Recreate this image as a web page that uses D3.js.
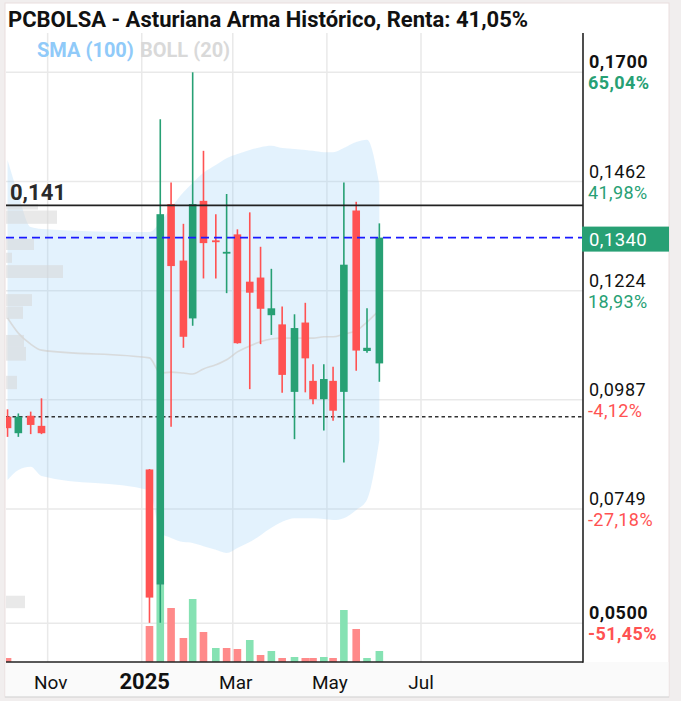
<!DOCTYPE html>
<html><head><meta charset="utf-8">
<script src="https://cdn.jsdelivr.net/npm/d3@7"></script>
<style>
html,body{margin:0;padding:0;background:#f1eeee;}
svg{display:block;font-family:Roboto,"Noto Sans",sans-serif;}
</style></head><body>
<svg id="c" width="681" height="701"></svg>
<script>
// ---------- data ----------
const dates = ["2024-10-06","2024-10-13","2024-10-21","2024-10-28","2025-01-06","2025-01-13","2025-01-20","2025-01-28","2025-02-03","2025-02-10","2025-02-18","2025-02-25","2025-03-04","2025-03-12","2025-03-19","2025-03-26","2025-04-02","2025-04-10","2025-04-17","2025-04-22","2025-04-29","2025-05-05","2025-05-12","2025-05-20","2025-05-27","2025-06-04"];
const opens  = [0.0950,0.0914,0.0952,0.0930,0.0835,0.0584,0.1413,0.1290,0.1164,0.1420,0.1334,0.1306,0.1347,0.1244,0.1253,0.1171,0.1151,0.1004,0.1155,0.1028,0.0988,0.1028,0.1004,0.1399,0.1093,0.1066];
const highs  = [0.0966,0.0957,0.0961,0.0990,0.0836,0.1598,0.1460,0.1370,0.1700,0.1529,0.1391,0.1435,0.1358,0.1395,0.1320,0.1272,0.1190,0.1173,0.1198,0.1064,0.1064,0.1059,0.1460,0.1418,0.1186,0.1371];
const lows   = [0.0906,0.0906,0.0912,0.0912,0.0501,0.0501,0.0928,0.1100,0.1148,0.1251,0.1251,0.1219,0.1109,0.1010,0.1108,0.1128,0.1002,0.0901,0.1003,0.0977,0.0920,0.0941,0.0850,0.1050,0.1089,0.1026];
const closes = [0.0925,0.0950,0.0932,0.0914,0.0556,0.1391,0.1278,0.1124,0.1413,0.1328,0.1330,0.1309,0.1110,0.1220,0.1185,0.1186,0.1041,0.1143,0.1077,0.0988,0.1032,0.0963,0.1281,0.1094,0.1100,0.1340];
const volumes = [4,0,0,0,36,77,54,24,63,30,14,14,13,22,7,11,4,5,4,4,5,4,52,33,4,11]; // thousands

const bollUpper = [0.1509,0.1433,0.1363,0.1359,0.1352,0.1374,0.1405,0.1439,0.1459,0.1481,0.1498,0.1513,0.1522,0.1531,0.1537,0.1540,0.1535,0.1533,0.1531,0.1529,0.1526,0.1526,0.1535,0.1548,0.1553,0.1455];
const bollLower = [0.0812,0.0834,0.0841,0.0821,0.0790,0.0697,0.0686,0.0677,0.0675,0.0668,0.0660,0.0653,0.0664,0.0677,0.0692,0.0708,0.0721,0.0729,0.0729,0.0729,0.0727,0.0725,0.0729,0.0747,0.0769,0.0899];
const bollMid   = [0.1165,0.1132,0.1108,0.1095,0.1078,0.1045,0.1047,0.1045,0.1043,0.1054,0.1063,0.1074,0.1091,0.1104,0.1113,0.1119,0.1121,0.1121,0.1121,0.1121,0.1124,0.1124,0.1130,0.1137,0.1156,0.1182];

const profileHigh = [0.1413,0.1399,0.1337,0.1307,0.1280,0.1217,0.1190,0.1128,0.1102,0.1039,0.0560];
const profileLow  = [0.1401,0.1370,0.1313,0.1285,0.1252,0.1191,0.1163,0.1102,0.1072,0.1010,0.0533];
const profileVol  = [32,51,28,6,57,26,17,18,20,11,19];

const yTicks = [0.1700,0.1462,0.1224,0.0987,0.0749,0.0500];
const yTickLabels = ["0,1700","0,1462","0,1224","0,0987","0,0749","0,0500"];
const pctLabels = ["65,04%","41,98%","18,93%","-4,12%","-27,18%","-51,45%"];
const xTickDates = ["2024-11-01","2025-01-01","2025-03-01","2025-05-01","2025-07-01"];
const xTickLabels = ["Nov","2025","Mar","May","Jul"];
const lastPrice = 0.1340, lastPriceLabel = "0,1340";
const refLevel = 0.141, refLabel = "0,141";
const baseLevel = 0.0950;
const title = "PCBOLSA - Asturiana Arma Histórico, Renta: 41,05%";

// ---------- setup ----------
const parse = d3.utcParse("%Y-%m-%d");
const GREEN = "#27a074", RED = "#ff5252";
const L = 6, R = 583, T = 33, B = 662;
const svg = d3.select("#c");
const x = d3.scaleUtc().domain([parse("2024-10-05"), parse("2025-10-14")]).range([L, R]);
const y = d3.scaleLinear().domain([0.05, 0.17]).range([623.3, 72.3]);
const vy = d3.scaleLinear().domain([0, 100]).range([B, B - 100]);
const px = d3.scaleLinear().domain([0, 100]).range([L, L + 100]);

const data = dates.map((d, i) => ({d: parse(d), o: opens[i], h: highs[i], l: lows[i], c: closes[i], v: volumes[i],
  up: bollUpper[i], lo: bollLower[i], mid: bollMid[i], prev: i > 0 ? closes[i-1] : opens[i]}));

// frame
svg.append("rect").attr("x",5).attr("y",3).attr("width",664).attr("height",694).attr("fill","#fff").attr("stroke","#eadede").attr("stroke-width",1);
svg.append("rect").attr("x",5.5).attr("y",B).attr("width",663).attr("height",35).attr("fill","#fafafa");
svg.append("line").attr("x1",5).attr("x2",669).attr("y1",697).attr("y2",697).attr("stroke","#dcdcdc").attr("stroke-width",1.5);

svg.append("clipPath").attr("id","pc").append("rect").attr("x",L).attr("y",T).attr("width",R-L).attr("height",B-T);
const g = svg.append("g").attr("clip-path","url(#pc)");

// grid
g.selectAll("line.hg").data(yTicks).join("line").attr("x1",L).attr("x2",R)
  .attr("y1",d=>y(d)).attr("y2",d=>y(d)).attr("stroke","#e9e9e9").attr("stroke-width",1.5);
g.selectAll("line.vg").data(xTickDates).join("line").attr("y1",T).attr("y2",B)
  .attr("x1",d=>x(parse(d))).attr("x2",d=>x(parse(d))).attr("stroke","#e9e9e9").attr("stroke-width",1.5);

// bollinger band
g.append("path").datum(data).attr("fill","rgba(144,202,249,0.25)")
  .attr("d", d3.area().x(d=>x(d.d)).y0(d=>y(d.lo)).y1(d=>y(d.up)).curve(d3.curveMonotoneX));
g.append("path").datum(data).attr("fill","none").attr("stroke","rgba(205,196,188,0.5)").attr("stroke-width",1.6)
  .attr("d", d3.line().x(d=>x(d.d)).y(d=>y(d.mid)).curve(d3.curveMonotoneX));

// volume profile
g.selectAll("rect.pf").data(profileVol).join("rect")
  .attr("x",L).attr("y",(d,i)=>y(profileHigh[i])).attr("height",(d,i)=>y(profileLow[i])-y(profileHigh[i]))
  .attr("width",d=>px(d)-L).attr("fill","rgba(215,215,215,0.55)");

// volume bars
const bw = 7.6;
g.selectAll("rect.vol").data(data.filter(d=>d.v>0)).join("rect")
  .attr("x",d=>x(d.d)-bw/2).attr("width",bw).attr("y",d=>vy(d.v)).attr("height",d=>B-vy(d.v))
  .attr("fill",d=>d.c>=d.prev ? "#86e2b3" : "#ff8a8a");

// reference lines
g.append("line").attr("x1",L).attr("x2",R).attr("y1",y(baseLevel)).attr("y2",y(baseLevel))
  .attr("stroke","#333").attr("stroke-width",1.4).attr("stroke-dasharray","3.5,3");

// candles
const cg = g.selectAll("g.cd").data(data).join("g");
cg.append("line").attr("x1",d=>x(d.d)).attr("x2",d=>x(d.d)).attr("y1",d=>y(d.h)).attr("y2",d=>y(d.l))
  .attr("stroke",d=>d.c>=d.o?GREEN:RED).attr("stroke-width",1.6);
cg.append("rect").attr("x",d=>x(d.d)-bw/2).attr("width",bw)
  .attr("y",d=>y(Math.max(d.o,d.c))).attr("height",d=>Math.max(1.8, Math.abs(y(d.o)-y(d.c))))
  .attr("fill",d=>d.c>=d.o?GREEN:RED);

g.append("line").attr("x1",L).attr("x2",R).attr("y1",y(refLevel)).attr("y2",y(refLevel))
  .attr("stroke","#222").attr("stroke-width",1.8);
g.append("line").attr("x1",L).attr("x2",R).attr("y1",y(lastPrice)).attr("y2",y(lastPrice))
  .attr("stroke","#1a1aff").attr("stroke-width",1.6).attr("stroke-dasharray","8,5");

// axes lines
svg.append("line").attr("x1",R).attr("x2",R).attr("y1",T).attr("y2",B+0.8).attr("stroke","#222").attr("stroke-width",1.6);
svg.append("line").attr("x1",L).attr("x2",R).attr("y1",B).attr("y2",B).attr("stroke","#222").attr("stroke-width",1.6);

// y labels
yTicks.forEach((t,i)=>{
  const bold = (i===0 || i===yTicks.length-1);
  svg.append("text").attr("x",589).attr("y",y(t)-4).attr("font-size",18).attr("font-weight",bold?700:400)
    .attr("fill","#111").attr("letter-spacing",0.5).text(yTickLabels[i]);
  svg.append("text").attr("x",588).attr("y",y(t)+17).attr("font-size",18).attr("font-weight",bold?700:400)
    .attr("fill",pctLabels[i].startsWith("-")?RED:GREEN).attr("letter-spacing",0.4).text(pctLabels[i]);
});
// last price box
svg.append("rect").attr("x",582).attr("y",y(lastPrice)-11).attr("width",87).attr("height",25).attr("fill",GREEN);
svg.append("text").attr("x",589).attr("y",y(lastPrice)+8).attr("font-size",18.5).attr("fill","#fff").attr("letter-spacing",0.4).text(lastPriceLabel);

// x labels
xTickDates.forEach((d,i)=>{
  const yr = xTickLabels[i]==="2025";
  svg.append("text").attr("x",x(parse(d))+(i===xTickDates.length-1?0:3)).attr("y",689).attr("text-anchor","middle")
    .attr("font-size",yr?22:19).attr("font-weight",yr?700:400).attr("fill","#111").text(xTickLabels[i]);
});

// ref label
svg.append("text").attr("x",10).attr("y",y(refLevel)-5).attr("font-size",22).attr("font-weight",700).attr("fill","#2a2a2a").text(refLabel);

// title & legend
svg.append("text").attr("x",8).attr("y",27).attr("font-size",22).attr("font-weight",700).attr("fill","#111").text(title);
svg.append("text").attr("x",37).attr("y",57).attr("font-size",20).attr("font-weight",700).attr("fill","#90caf9").text("SMA (100)");
svg.append("text").attr("x",140).attr("y",57).attr("font-size",20).attr("font-weight",700).attr("fill","#d9d9d9").text("BOLL (20)");
</script>
</body></html>
